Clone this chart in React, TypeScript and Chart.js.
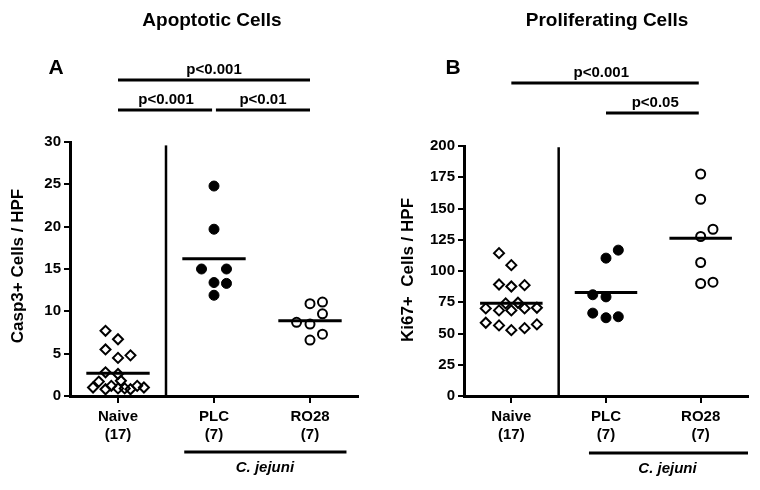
import React, { useEffect, useRef } from "react";
import { Chart, registerables } from "chart.js";

Chart.register(...registerables);

const FONT = "'Liberation Sans', Arial, Helvetica, sans-serif";

// ---------- data ----------
const categories = ["Naive", "PLC", "RO28"];
const groupSizes = ["(17)", "(7)", "(7)"];

// Panel A: Casp3+ cells / HPF
const casp3Naive = [7.7, 6.7, 5.5, 4.5, 4.8, 2.8, 2.6, 1.7, 1.8, 1.2, 1.0, 0.8, 0.9, 0.9, 0.8, 1.2, 1.0];
const casp3NaiveJitter = [-0.13, 0, -0.13, 0, 0.13, -0.13, 0, -0.2, 0.03, -0.07, -0.26, -0.13, 0, 0.07, 0.13, 0.2, 0.27];
const casp3PLC = [24.8, 19.7, 15.0, 15.0, 13.4, 13.3, 11.9];
const casp3PLCJitter = [0, 0, -0.13, 0.13, 0, 0.13, 0];
const casp3RO28 = [10.9, 11.1, 9.7, 8.7, 8.5, 7.3, 6.6];
const casp3RO28Jitter = [0, 0.13, 0.13, -0.14, 0, 0.13, 0];
const casp3Medians = [2.7, 16.2, 8.9];
const casp3Ticks = [0, 5, 10, 15, 20, 25, 30];

// Panel B: Ki67+ cells / HPF
const ki67Naive = [114.3, 104.7, 89.2, 87.6, 88.7, 74.1, 74.6, 70.1, 68.5, 68.5, 70.1, 70.6, 58.6, 56.5, 52.7, 54.3, 57.3];
const ki67NaiveJitter = [-0.13, 0, -0.13, 0, 0.14, -0.06, 0.07, -0.27, -0.13, 0, 0.14, 0.27, -0.27, -0.13, 0, 0.14, 0.27];
const ki67PLC = [116.7, 110.3, 81.0, 79.3, 66.3, 62.6, 63.4];
const ki67PLCJitter = [0.13, 0, -0.14, 0, -0.14, 0, 0.13];
const ki67RO28 = [177.6, 157.4, 133.4, 127.6, 106.8, 90.0, 91.1];
const ki67RO28Jitter = [0, 0, 0.13, 0, 0, 0, 0.13];
const ki67Medians = [74.3, 82.8, 126.2];
const ki67Ticks = [0, 25, 50, 75, 100, 125, 150, 175, 200];

// significance brackets: [from group, to group, label]
const casp3Sig: [number, number, string][] = [
  [0, 2, "p<0.001"],
  [0, 0.98, "p<0.001"],
  [1.02, 2, "p<0.01"],
];
const ki67Sig: [number, number, string][] = [
  [0, 1.98, "p<0.001"],
  [1, 1.98, "p<0.05"],
];

// ---------- layout ----------
interface Panel {
  title: string;
  letter: string;
  yTitle: string;
  naive: number[]; naiveJ: number[];
  plc: number[]; plcJ: number[];
  ro: number[]; roJ: number[];
  medians: number[];
  ticks: number[];
  dividerTop: number;
  sig: [number, number, string][];
  sigY: number[];
  sigLabelAt: number[];
  leftW: number; padTop: number; padRight: number;
  titleX: number; letterX: number; yTitleX: number; yTitleY: number;
  jFrom: number; jTo: number; jAt: number; jY: number;
}

const panelA: Panel = {
  title: "Apoptotic Cells", letter: "A", yTitle: "Casp3+ Cells / HPF",
  naive: casp3Naive, naiveJ: casp3NaiveJitter,
  plc: casp3PLC, plcJ: casp3PLCJitter,
  ro: casp3RO28, roJ: casp3RO28Jitter,
  medians: casp3Medians, ticks: casp3Ticks, dividerTop: 29.6,
  sig: casp3Sig, sigY: [80, 110, 110], sigLabelAt: [1, 0.5, 1.51],
  leftW: 70, padTop: 142, padRight: 22,
  titleX: 212, letterX: 56, yTitleX: 18, yTitleY: 266,
  jFrom: 0.69, jTo: 2.38, jAt: 1.53, jY: 452,
};

const panelB: Panel = {
  title: "Proliferating Cells", letter: "B", yTitle: "Ki67+  Cells / HPF",
  naive: ki67Naive, naiveJ: ki67NaiveJitter,
  plc: ki67PLC, plcJ: ki67PLCJitter,
  ro: ki67RO28, roJ: ki67RO28Jitter,
  medians: ki67Medians, ticks: ki67Ticks, dividerTop: 199,
  sig: ki67Sig, sigY: [83, 113], sigLabelAt: [0.95, 1.52],
  leftW: 84, padTop: 146, padRight: 12,
  titleX: 227, letterX: 73, yTitleX: 28, yTitleY: 270,
  jFrom: 0.82, jTo: 2.5, jAt: 1.65, jY: 453,
};

const W = 380;
const H = 490;
const MED_HALF = 0.33;

function pts(vals: number[], jit: number[], g: number) {
  return vals.map((v, i) => ({ x: g + jit[i], y: v }));
}

function makeAnnot(p: Panel) {
  return {
    id: "annot" + p.letter,
    afterDraw(chart: any) {
      const ctx = chart.ctx as CanvasRenderingContext2D;
      const xs = chart.scales.x;
      ctx.save();
      ctx.fillStyle = "#000";
      ctx.strokeStyle = "#000";
      ctx.textAlign = "center";
      ctx.textBaseline = "middle";
      ctx.font = `bold 19px ${FONT}`;
      ctx.fillText(p.title, p.titleX, 21);
      ctx.font = `bold 21px ${FONT}`;
      ctx.fillText(p.letter, p.letterX, 68);

      ctx.save();
      ctx.translate(p.yTitleX, p.yTitleY);
      ctx.rotate(-Math.PI / 2);
      ctx.font = `bold 17px ${FONT}`;
      ctx.fillText(p.yTitle, 0, 0);
      ctx.restore();

      ctx.lineWidth = 3;
      ctx.textBaseline = "alphabetic";
      ctx.font = `bold 15px ${FONT}`;
      p.sig.forEach((s, i) => {
        const y = p.sigY[i];
        ctx.beginPath();
        ctx.moveTo(xs.getPixelForValue(s[0]), y);
        ctx.lineTo(xs.getPixelForValue(s[1]), y);
        ctx.stroke();
        ctx.fillText(s[2], xs.getPixelForValue(p.sigLabelAt[i]), y - 6);
      });

      ctx.beginPath();
      ctx.moveTo(xs.getPixelForValue(p.jFrom), p.jY);
      ctx.lineTo(xs.getPixelForValue(p.jTo), p.jY);
      ctx.stroke();
      ctx.font = `italic bold 15px ${FONT}`;
      ctx.fillText("C. jejuni", xs.getPixelForValue(p.jAt), p.jY + 20);
      ctx.restore();
    },
  };
}

function makeConfig(p: Panel): any {
  const medianSets = p.medians.map((m, g) => ({
    type: "scatter",
    data: [{ x: g - MED_HALF, y: m }, { x: g + MED_HALF, y: m }],
    showLine: true,
    borderColor: "#000",
    borderWidth: 3,
    pointRadius: 0,
  }));
  return {
    type: "scatter",
    data: {
      datasets: [
        {
          data: [{ x: 0.5, y: 0 }, { x: 0.5, y: p.dividerTop }],
          showLine: true,
          borderColor: "#000",
          borderWidth: 2.5,
          pointRadius: 0,
        },
        {
          data: pts(p.naive, p.naiveJ, 0),
          pointStyle: "rectRot",
          pointRadius: 5,
          borderWidth: 2,
          borderColor: "#000",
          backgroundColor: "rgba(255,255,255,0)",
        },
        {
          data: pts(p.plc, p.plcJ, 1),
          pointStyle: "circle",
          pointRadius: 5,
          borderWidth: 1,
          borderColor: "#000",
          backgroundColor: "#000",
        },
        {
          data: pts(p.ro, p.roJ, 2),
          pointStyle: "circle",
          pointRadius: 4.5,
          borderWidth: 2,
          borderColor: "#000",
          backgroundColor: "rgba(255,255,255,0)",
        },
        ...medianSets,
      ],
    },
    options: {
      responsive: false,
      animation: false,
      events: [],
      layout: { padding: { left: 0, top: p.padTop, right: p.padRight, bottom: 44 } },
      plugins: { legend: { display: false }, tooltip: { enabled: false } },
      scales: {
        x: {
          type: "linear",
          min: -0.5,
          max: 2.5,
          afterBuildTicks: (axis: any) => {
            axis.ticks = categories.map((_, i) => ({ value: i }));
          },
          afterFit: (axis: any) => {
            axis.height = 50;
          },
          ticks: {
            autoSkip: false,
            maxRotation: 0,
            padding: 5,
            color: "#000",
            font: { family: FONT, size: 15, weight: "bold", lineHeight: 1.2 },
            callback: (v: number) => [categories[Math.round(v)], groupSizes[Math.round(v)]],
          },
          grid: { drawOnChartArea: false, drawTicks: true, tickLength: 7, color: "#000", lineWidth: 2 },
          border: { display: true, color: "#000", width: 3 },
        },
        y: {
          type: "linear",
          min: p.ticks[0],
          max: p.ticks[p.ticks.length - 1],
          afterBuildTicks: (axis: any) => {
            axis.ticks = p.ticks.map((v) => ({ value: v }));
          },
          afterFit: (axis: any) => {
            axis.width = p.leftW;
          },
          ticks: {
            padding: 3,
            color: "#000",
            font: { family: FONT, size: 15, weight: "bold" },
          },
          grid: { drawOnChartArea: false, drawTicks: true, tickLength: 6, color: "#000", lineWidth: 2 },
          border: { display: true, color: "#000", width: 3 },
        },
      },
    },
    plugins: [makeAnnot(p)],
  };
}

function PanelChart({ panel, left }: { panel: Panel; left: number }) {
  const ref = useRef<HTMLCanvasElement | null>(null);
  useEffect(() => {
    if (!ref.current) return;
    const chart = new Chart(ref.current, makeConfig(panel));
    return () => chart.destroy();
  }, [panel]);
  return (
    <canvas
      ref={ref}
      width={W}
      height={H}
      style={{ position: "absolute", left, top: 0, width: W, height: H }}
    />
  );
}

export default function App() {
  return (
    <div style={{ position: "absolute", left: 0, top: 0, width: 760, height: 490, background: "#fff" }}>
      <PanelChart panel={panelA} left={0} />
      <PanelChart panel={panelB} left={380} />
    </div>
  );
}
